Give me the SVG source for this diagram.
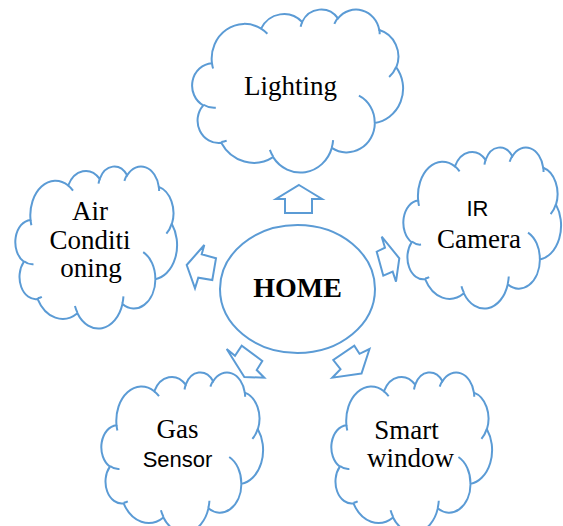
<svg xmlns="http://www.w3.org/2000/svg" xmlns:xlink="http://www.w3.org/1999/xlink" width="563" height="526" viewBox="0 0 563 526">
<style>
.ln{stroke:#5B9BD5;stroke-width:2;vector-effect:non-scaling-stroke;stroke-linejoin:miter}
.cf{fill:#fff}
.nf{fill:none}
.serif{font-family:"Liberation Serif","Times New Roman",serif;font-size:27px;fill:#000;text-anchor:middle}
.sans{font-family:"Liberation Sans",Arial,sans-serif;font-size:22px;fill:#000;text-anchor:middle}
.bold{font-weight:bold;font-size:28px}
</style>
<defs>
<g id="cloud">
<path class="ln cf" d="M39,143.7 A67.53,91.9 0 0 1 140.05,52.02 A53.33,72.67 0 0 1 224.57,34.31 A43.65,59.45 0 0 1 298.34,24.8 A48.57,65.95 0 0 1 383.19,55.75 A53.33,72.73 0 0 1 418.2,154.59 A67.75,92.2 0 0 1 374.06,302.02 A57.85,78.67 0 0 1 285.57,368.12 A67.52,92.15 0 0 1 164.81,392.65 A77.2,105.43 0 0 1 58.08,354.71 A43.6,59.18 0 0 1 21.16,255.49 A43.45,59.45 0 0 1 39,143.7 Z"/>
<path class="ln nf" d="M46.93,261.77 A43.45,59.45 0 0 1 21.6,253.8 M69.28,348.99 A43.6,59.18 0 0 1 58.19,352.81 M164.78,390.9 A67.52,92.15 0 0 1 158.1,373.5 M288.27,347.51 A67.52,92.15 0 0 1 285.6,366.59 M341.29,229.54 A57.85,78.67 0 0 1 373.8,300.9 M417.98,153.54 A53.33,72.73 0 0 1 403.49,180.31 M383.24,54.26 A48.57,65.95 0 0 1 384,66.9 M290.78,39.52 A48.57,65.95 0 0 1 298.2,23.41 M221.41,47.2 A43.65,59.45 0 0 1 225,33.3 M140,51.92 A67.53,91.9 0 0 1 153,65.41 M41.27,157.89 A67.53,91.9 0 0 1 39,143.7"/>
</g>
</defs>
<rect width="563" height="526" fill="#fff"/>
<g id="lighting">
<use xlink:href="#cloud" href="#cloud" transform="translate(193 9) scale(0.4861 0.3773)"/>
<text class="serif" x="290.5" y="95">Lighting</text>
</g>
<g id="ir-camera">
<use xlink:href="#cloud" href="#cloud" transform="translate(404 147) scale(0.3634 0.3727)"/>
<text class="sans" x="477.5" y="216">IR</text>
<text class="serif" x="479" y="248">Camera</text>
</g>
<g id="air-conditioning">
<use xlink:href="#cloud" href="#cloud" transform="translate(16 166) scale(0.3727 0.375)"/>
<text class="serif" x="90" y="220">Air</text>
<text class="serif" x="90" y="249">Conditi</text>
<text class="serif" x="91" y="277">oning</text>
</g>
<g id="gas-sensor">
<use xlink:href="#cloud" href="#cloud" transform="translate(102 372) scale(0.3727 0.3704)"/>
<text class="serif" x="177.5" y="438">Gas</text>
<text class="sans" x="177.5" y="467">Sensor</text>
</g>
<g id="smart-window">
<use xlink:href="#cloud" href="#cloud" transform="translate(332 372) scale(0.3704 0.3704)"/>
<text class="serif" x="406.5" y="439">Smart</text>
<text class="serif" x="410.5" y="467">window</text>
</g>
<g id="home">
<ellipse class="ln cf" cx="297.5" cy="289" rx="77.5" ry="64"/>
<text class="serif bold" x="297.5" y="297">HOME</text>
</g>
<g id="connectors" class="ln nf">
<polygon class="ln nf" points="299,185 322,199 312,199 312,213 285,213 285,199 276,199"/>
<polygon class="ln nf" points="186.7,265 204.3,245 201.7,254.3 216,258.3 212.3,280 198.3,277.7 195,288.3"/>
<polygon class="ln nf" points="381.7,236.7 399.3,258.3 396,281.7 392.7,271.7 383.3,275.7 376.7,251.7 385,247.7"/>
<polygon class="ln nf" points="244.3,377 226.7,349 235,355.7 241.7,345.7 262.3,361 256.7,370 264.3,377.7"/>
<polygon class="ln nf" points="361.5,373.5 332.3,377.7 340.5,369.2 333.3,360 354.3,345.7 359.5,353.8 369.5,349"/>
</g>
</svg>
